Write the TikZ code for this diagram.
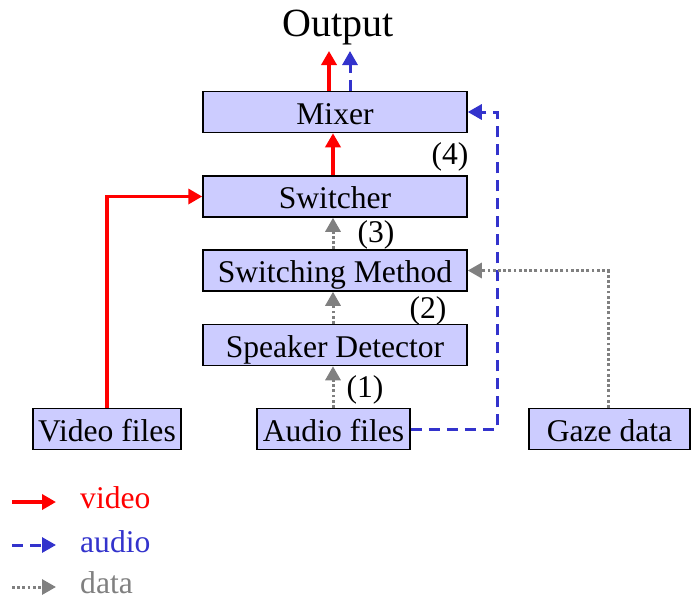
\documentclass[tikz,border=0pt]{standalone}
\usepackage{fontspec}
\setmainfont{Liberation Serif}
\usetikzlibrary{arrows.meta,calc}
\definecolor{boxfill}{RGB}{204,204,255}
\definecolor{audioblue}{RGB}{51,51,204}
\definecolor{datagray}{RGB}{128,128,128}
\begin{document}
\begin{tikzpicture}[x=1pt,y=-1pt,
  font=\fontsize{31.6}{36}\selectfont,
  block/.style={draw=black,line width=1.5pt,fill=boxfill,inner sep=0pt,
    minimum height=41pt,text height=26pt,text depth=2pt},
  wide/.style={block,minimum width=264pt},
  tip/.style={-{Triangle[length=14pt,width=15pt]}},
  videoline/.style={tip,draw=red,line width=3.6pt},
  audioline/.style={tip,draw=audioblue,line width=3pt,dash pattern=on 11pt off 7pt},
  dataline/.style={tip,draw=datagray,line width=3pt,dash pattern=on 2.8pt off 2.4pt},
  steplabel/.style={inner sep=0pt,anchor=base}]
\useasboundingbox (0,0) rectangle (699,598);

% processing chain
\node[wide] (mix) at (335,112) {Mixer};
\node[wide] (sw)  at (335,196.5) {Switcher};
\node[wide] (sm)  at (335,270.5) {Switching Method};
\node[wide] (sd)  at (335,345) {Speaker Detector};

% inputs
\node[block,minimum width=148pt] (vid)  at (107,429) {Video files};
\node[block,minimum width=153pt] (aud)  at (333.5,429) {Audio files};
\node[block,minimum width=161pt] (gaze) at (609.5,429) {Gaze data};

% output
\node[inner sep=0pt,anchor=base,font=\fontsize{40}{44}\selectfont] (out) at (338,36) {Output};
\coordinate (outv) at (329,51);
\coordinate (outa) at (350,51);

% video path
\draw[videoline] (vid.north) |- (sw.west);
\draw[videoline] (sw.north -| 333,0) -- (mix.south -| 333,0);
\draw[videoline] (mix.north -| outv) -- (outv);

% audio path
\coordinate (abend) at (497,429);
\draw[audioline] (aud.east) -- (abend) |- (mix.east);
\draw[audioline] (mix.north -| outa) -- (outa);

% data path
\draw[dataline] (aud.north -| 333,0) -- (sd.south -| 333,0);
\draw[dataline] (sd.north -| 333,0) -- (sm.south -| 333,0);
\draw[dataline] (sm.north -| 333,0) -- (sw.south -| 333,0);
\draw[dataline] (gaze.north -| 608,0) |- (sm.east);

% step numbers
\node[steplabel] (n1) at (365,397) {(1)};
\node[steplabel] (n2) at (428,318) {(2)};
\node[steplabel] (n3) at (376,242) {(3)};
\node[steplabel] (n4) at (450,164) {(4)};

% legend
\coordinate (lv0) at (12,502); \coordinate (lv1) at (56,502);
\coordinate (la0) at (12,545); \coordinate (la1) at (56,545);
\coordinate (ld0) at (12,587); \coordinate (ld1) at (56,587);
\draw[videoline] (lv0) -- (lv1);
\draw[audioline] (la0) -- (la1);
\draw[dataline] (ld0) -- (ld1);
\node[anchor=base west,inner sep=0pt,text=red] (lvt) at (80,508) {video};
\node[anchor=base west,inner sep=0pt,text=audioblue] (lat) at (80,552) {audio};
\node[anchor=base west,inner sep=0pt,text=datagray] (ldt) at (80,593) {data};
\end{tikzpicture}
\end{document}
